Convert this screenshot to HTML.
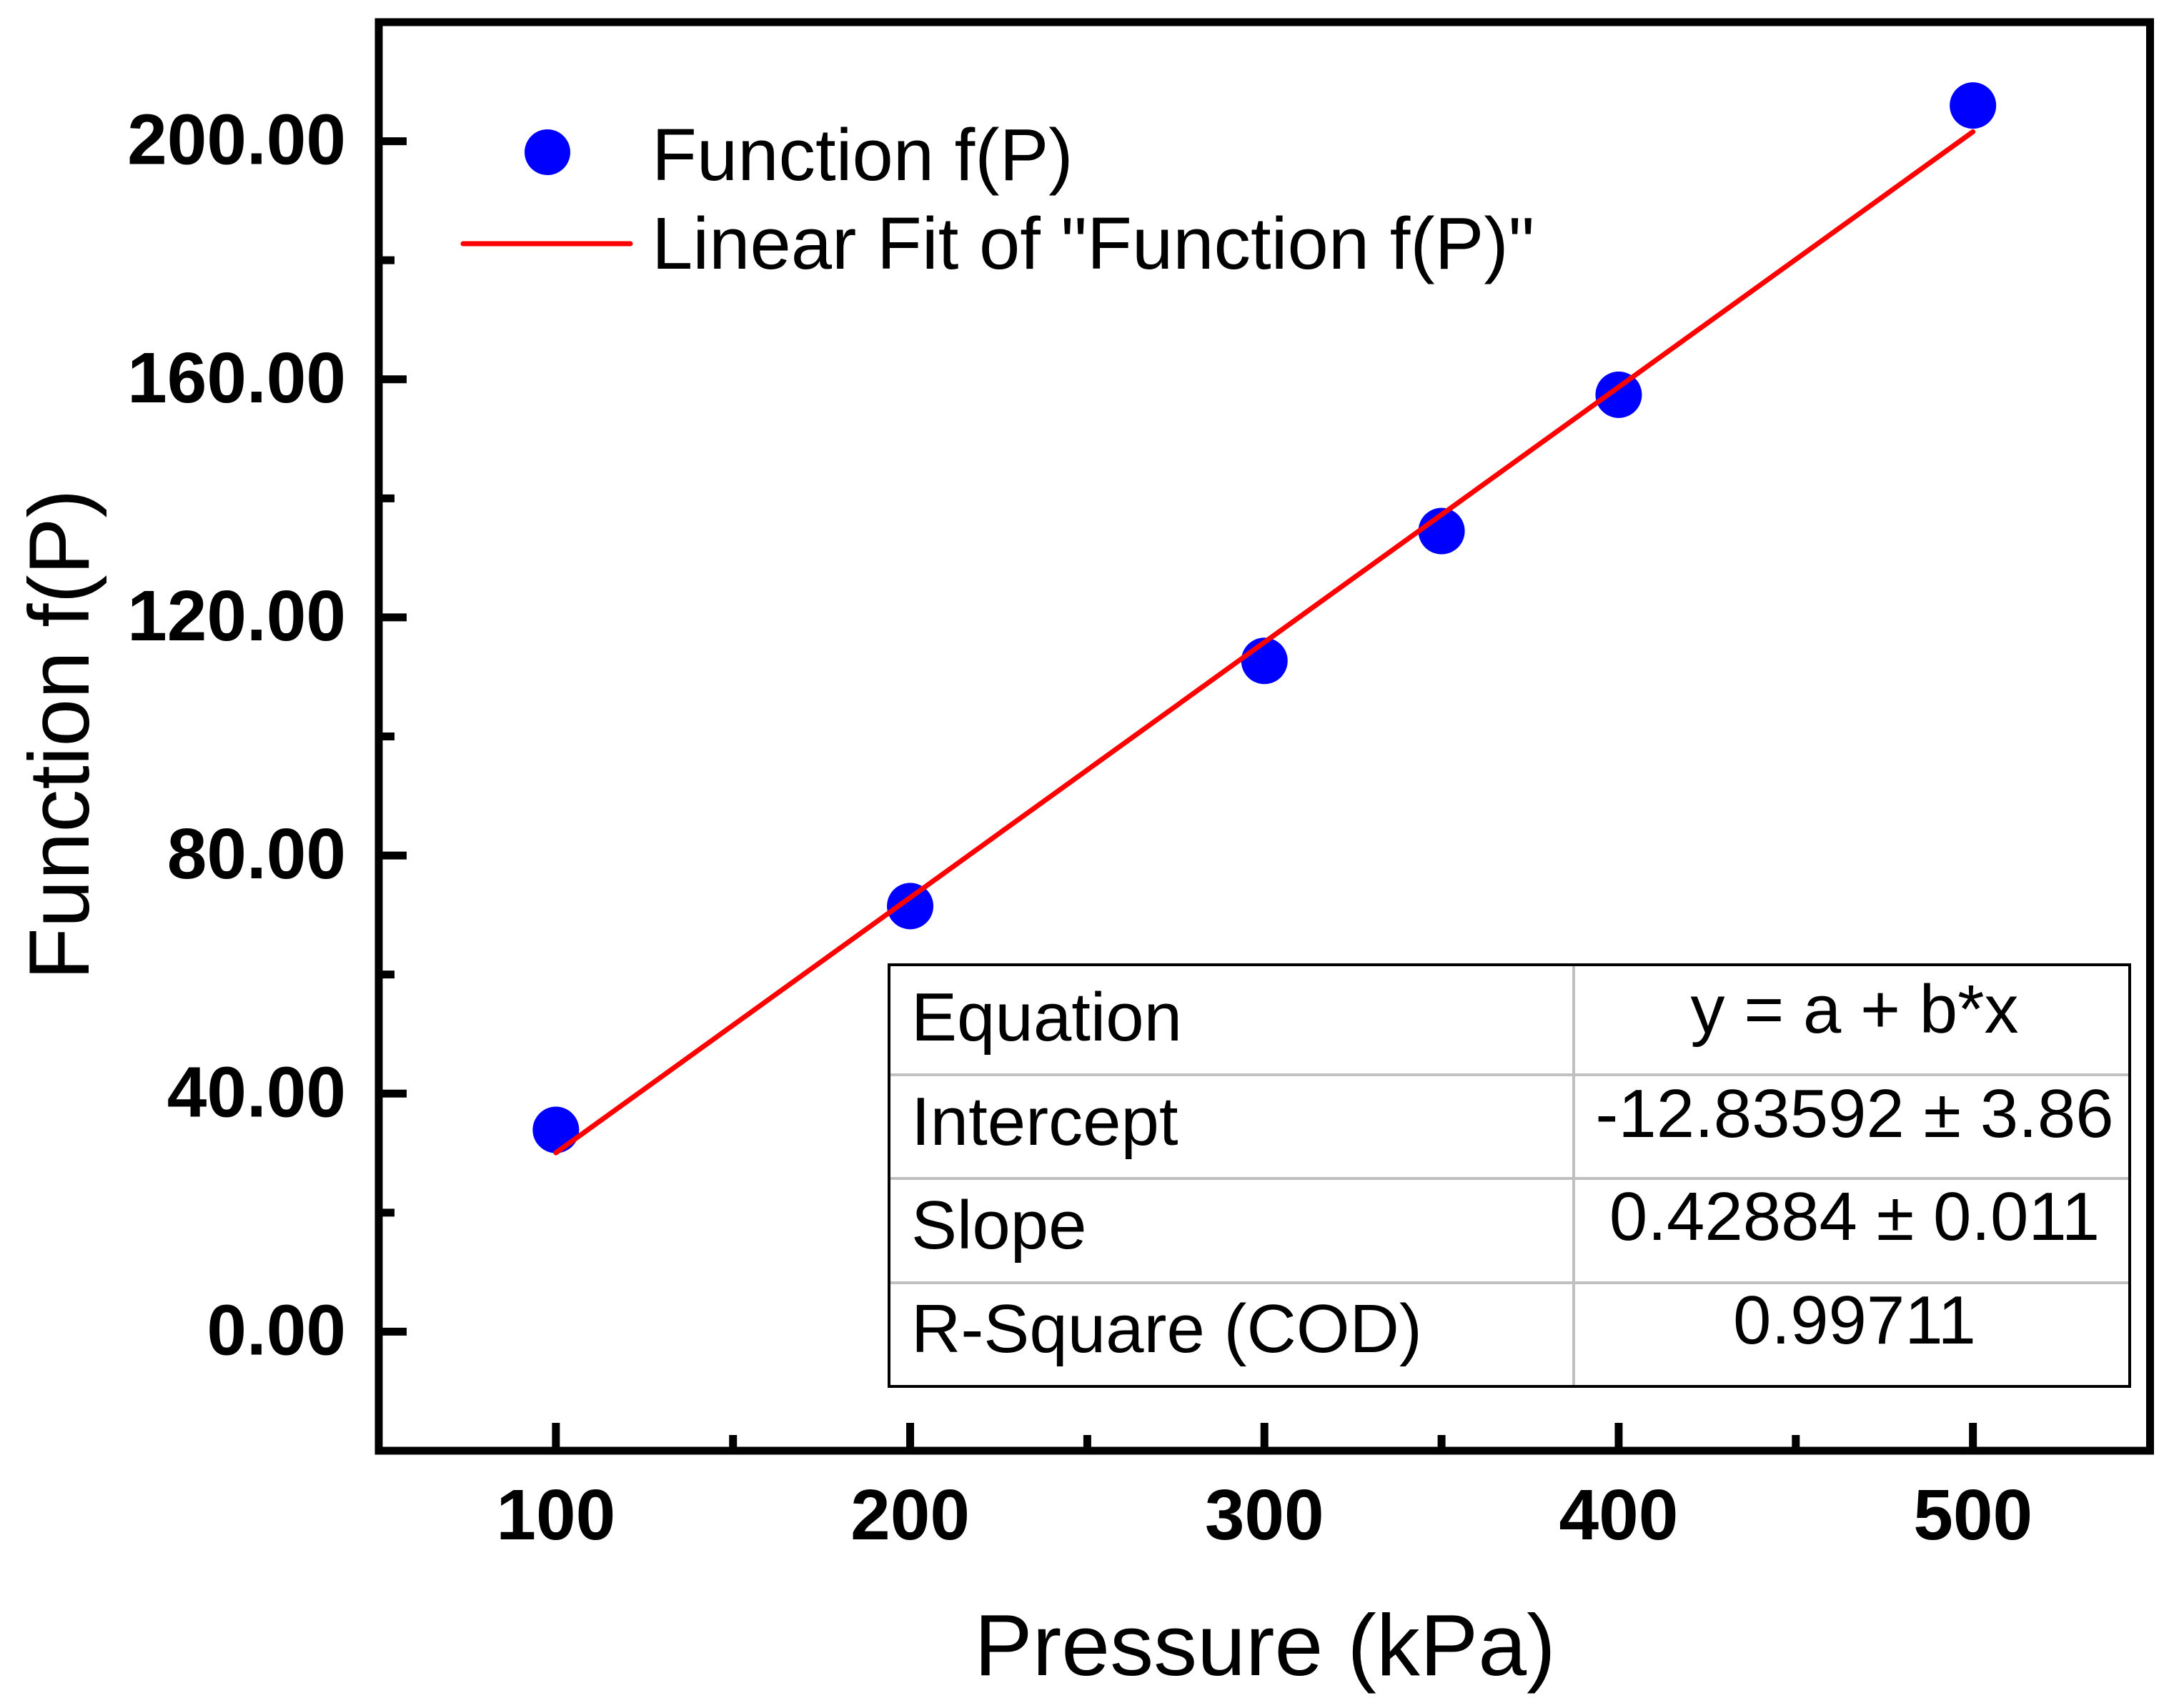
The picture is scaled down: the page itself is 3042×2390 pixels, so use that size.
<!DOCTYPE html>
<html><head><meta charset="utf-8"><style>
html,body{margin:0;padding:0;background:#fff;}
svg{display:block;font-family:"Liberation Sans",Arial,sans-serif;}
</style></head><body>
<svg id="chart" width="3042" height="2390" viewBox="0 0 3042 2390" xmlns="http://www.w3.org/2000/svg">
<rect x="0" y="0" width="3042" height="2390" fill="#fff"/>
<g id="marks"></g>
<g id="axes"></g>
<g id="legend">
  <circle cx="766" cy="213" r="32" fill="#0000ff"/>
  <text x="912" y="252" font-size="103">Function f(P)</text>
  <line x1="648" y1="341" x2="882" y2="341" stroke="#ff0000" stroke-width="7" stroke-linecap="round"/>
  <text x="912" y="376" font-size="103">Linear Fit of "Function f(P)"</text>
</g>
<g id="fit-table">
  <rect x="1244" y="1350" width="1736" height="590" fill="#fff" stroke="none"/>
  <line x1="1244" y1="1504" x2="2980" y2="1504" stroke="#c0c0c0" stroke-width="4"/>
  <line x1="1244" y1="1649" x2="2980" y2="1649" stroke="#c0c0c0" stroke-width="4"/>
  <line x1="1244" y1="1795" x2="2980" y2="1795" stroke="#c0c0c0" stroke-width="4"/>
  <line x1="2202" y1="1350" x2="2202" y2="1940" stroke="#c0c0c0" stroke-width="4"/>
  <rect x="1244" y="1350" width="1736" height="590" fill="none" stroke="#000" stroke-width="4"/>
  <text x="1275" y="1456" font-size="96">Equation</text>
  <text x="1275" y="1602" font-size="96">Intercept</text>
  <text x="1275" y="1747" font-size="96">Slope</text>
  <text x="1275" y="1892" font-size="96">R-Square (COD)</text>
  <text x="2595" y="1445" font-size="96" text-anchor="middle">y = a + b*x</text>
  <text x="2595" y="1591" font-size="96" text-anchor="middle">-12.83592 ± 3.86</text>
  <text x="2595" y="1735" font-size="96" text-anchor="middle">0.42884 ± 0.011</text>
  <text x="2595" y="1880" font-size="96" text-anchor="middle">0.99711</text>
</g>
<text x="1770" y="2344" font-size="122" text-anchor="middle">Pressure (kPa)</text>
<text x="0" y="0" font-size="120" text-anchor="middle" transform="translate(124,1028) rotate(-90)">Function f(P)</text>
</svg>
<script>
const pressures = [100, 200, 300, 350, 400, 500];
const fValues = [33.9, 71.5, 112.7, 134.5, 157.4, 206.0];
const fitIntercept = -12.83592;
const fitSlope = 0.42884;
const xMajorTicks = [100, 200, 300, 400, 500];
const xTickLabels = ["100", "200", "300", "400", "500"];
const xMinorTicks = [150, 250, 350, 450];
const yMajorTicks = [0, 40, 80, 120, 160, 200];
const yTickLabels = ["0.00", "40.00", "80.00", "120.00", "160.00", "200.00"];
const yMinorTicks = [20, 60, 100, 140, 180];

const L = 530, R = 3008.5, T = 31, B = 2030;
const xMin = 50, xMax = 550, yMin = -20, yMax = 220;
function sx(v){ return L + (v - xMin) / (xMax - xMin) * (R - L); }
function sy(v){ return B - (v - yMin) / (yMax - yMin) * (B - T); }
const NS = "http://www.w3.org/2000/svg";
function mk(tag, attrs, parent){
  const e = document.createElementNS(NS, tag);
  for (const k in attrs) e.setAttribute(k, attrs[k]);
  parent.appendChild(e);
  return e;
}
const marks = document.getElementById('marks');
const axes = document.getElementById('axes');

const x0 = pressures[0], x1 = pressures[pressures.length - 1];
const fit = mk('line', {x1: sx(x0), y1: sy(fitIntercept + fitSlope * x0), x2: sx(x1), y2: sy(fitIntercept + fitSlope * x1), stroke: '#ff0000', 'stroke-width': 7, 'stroke-linecap': 'round'}, marks);



pressures.forEach((p, i) => {
  const c = mk('circle', {cx: sx(p), cy: sy(fValues[i]), r: 32.5, fill: '#0000ff'}, marks);
  
  
});
marks.appendChild(fit);

const frame = mk('rect', {x: L, y: T, width: R - L, height: B - T, fill: 'none', stroke: '#000', 'stroke-width': 11}, axes);



xMajorTicks.forEach((v, i) => {
  const t = mk('line', {x1: sx(v), y1: B, x2: sx(v), y2: B - 39, stroke: '#000', 'stroke-width': 11}, axes);
  
  
  const lb = mk('text', {x: sx(v), y: 2154, 'font-size': 100, 'font-weight': 'bold', 'text-anchor': 'middle'}, axes);
  lb.textContent = xTickLabels[i];
  
  
});
xMinorTicks.forEach(v => {
  const t = mk('line', {x1: sx(v), y1: B, x2: sx(v), y2: B - 22, stroke: '#000', 'stroke-width': 11}, axes);
  
  
});
yMajorTicks.forEach((v, i) => {
  const t = mk('line', {x1: L, y1: sy(v), x2: L + 39, y2: sy(v), stroke: '#000', 'stroke-width': 11}, axes);
  
  
  const lb = mk('text', {x: 484, y: sy(v) + 32, 'font-size': 100, 'font-weight': 'bold', 'text-anchor': 'end'}, axes);
  lb.textContent = yTickLabels[i];
  
  
});
yMinorTicks.forEach(v => {
  const t = mk('line', {x1: L, y1: sy(v), x2: L + 22, y2: sy(v), stroke: '#000', 'stroke-width': 11}, axes);
  
  
});
</script>
</body></html>
